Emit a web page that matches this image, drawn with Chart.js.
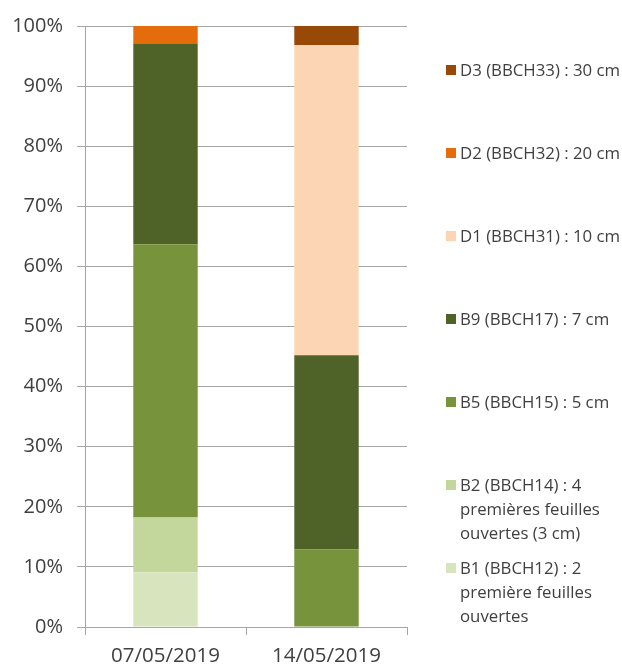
<!DOCTYPE html>
<html>
<head>
<meta charset="utf-8">
<script src="https://cdn.jsdelivr.net/npm/chart.js@4"></script>
<style>
  html, body { margin: 0; padding: 0; background: #fff; }
  #wrap { position: relative; width: 622px; height: 666px; overflow: hidden; }
  #wrap canvas { position: absolute; left: 0; top: 0; }
  #legend { position: absolute; left: 446px; top: 58px; font-family: "Open Sans", sans-serif; font-size: 16.8px; color: #404040; }
  .lg-item { display: flex; align-items: flex-start; height: 83px; line-height: 24px; white-space: nowrap; }
  .lg-box { width: 10px; height: 10px; margin: 7px 4px 0 0; flex: none; }
</style>
</head>
<body>
<div id="wrap">
  <canvas id="c" width="622" height="666"></canvas>
  <div id="legend"></div>
</div>
<script>
// Stades de développement, 2 dates d'observation (%)
const DATES = ['07/05/2019', '14/05/2019'];

const STAGE_LINES = [
  ['B1 (BBCH12) : 2', 'première feuilles', 'ouvertes'],
  ['B2 (BBCH14) : 4', 'premières feuilles', 'ouvertes (3 cm)'],
  ['B5 (BBCH15) : 5 cm'],
  ['B9 (BBCH17) : 7 cm'],
  ['D1 (BBCH31) : 10 cm'],
  ['D2 (BBCH32) : 20 cm'],
  ['D3 (BBCH33) : 30 cm'],
];
const STAGE_COLORS = ['#D7E4BD', '#C3D69B', '#77933C', '#4F6228', '#FCD5B5', '#E46C0A', '#984807'];

// one array per stage: [07/05, 14/05]
const B1 = [9.1, 0];
const B2 = [9.1, 0];
const B5 = [45.5, 12.9];
const B9 = [33.3, 32.3];
const D1 = [0, 51.6];
const D2 = [3.0, 0];
const D3 = [0, 3.2];
const SERIES = [B1, B2, B5, B9, D1, D2, D3];

const Y_TICKS = [0, 10, 20, 30, 40, 50, 60, 70, 80, 90, 100];

const FONT = '"Open Sans", sans-serif';
const GRID = '#A6A6A6';
const TXT = '#404040';

const chart = new Chart(document.getElementById('c'), {
  type: 'bar',
  data: {
    labels: DATES,
    datasets: SERIES.map((d, i) => ({
      label: STAGE_LINES[i].join(' '),
      data: d,
      backgroundColor: STAGE_COLORS[i],
      borderWidth: 0,
      barPercentage: 0.4,
      categoryPercentage: 1,
    })),
  },
  options: {
    responsive: false,
    animation: false,
    layout: { padding: { top: 21, right: 215, bottom: 0, left: 0 } },
    plugins: { legend: { display: false }, tooltip: { enabled: false } },
    scales: {
      x: {
        stacked: true,
        grid: { display: true, drawOnChartArea: false, offset: true, color: GRID, tickLength: 8 },
        border: { color: GRID },
        ticks: { color: TXT, font: { family: FONT, size: 20.5 }, padding: 9, maxRotation: 0 },
        afterFit: s => { s.height = 39; },
      },
      y: {
        stacked: true,
        min: 0, max: 100,
        afterBuildTicks: s => { s.ticks = Y_TICKS.map(v => ({ value: v })); },
        grid: { color: GRID, tickLength: 8 },
        border: { color: GRID },
        ticks: { color: TXT, font: { family: FONT, size: 20 }, padding: 14, callback: v => v + '%' },
        afterFit: s => { s.width = 85; },
      },
    },
  },
});

// legend, top entry = last stage
const legend = document.getElementById('legend');
chart.data.datasets.map((ds, i) => ({ ds, lines: STAGE_LINES[i] })).reverse().forEach(({ ds, lines }) => {
  const item = document.createElement('div');
  item.className = 'lg-item';
  item.innerHTML = `<div class="lg-box" style="background:${ds.backgroundColor}"></div><div>${lines.join('<br>')}</div>`;
  legend.appendChild(item);
});
</script>
</body>
</html>
